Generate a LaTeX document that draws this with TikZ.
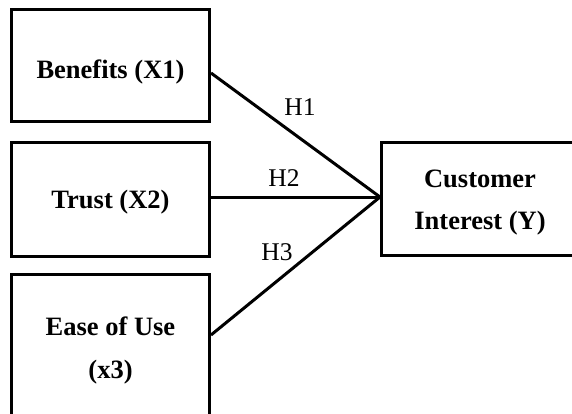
\documentclass[tikz,border=0pt]{standalone}
\usepackage{fontspec}
\setmainfont{Liberation Serif}
\usetikzlibrary{calc}
\begin{document}
\begin{tikzpicture}[x=1pt,y=-1pt,
  varbox/.style={draw=black, line width=3pt, line join=miter, rectangle, align=center,
    inner sep=0pt, font=\fontsize{26.5}{42.5}\selectfont\bfseries},
  link/.style={draw=black, line width=3pt},
  hlabel/.style={font=\fontsize{25.5}{30}\selectfont, inner sep=0pt}]
\useasboundingbox (0,0) rectangle (572,414);
\clip (0,0) rectangle (572,414);
\node[varbox, minimum width=198pt, minimum height=112pt, text height=31pt] (b1) at (110.5,65.5) {Benefits (X1)};
\node[varbox, minimum width=198pt, minimum height=113pt, text height=23pt] (b2) at (110.5,199.5) {Trust (X2)};
\node[varbox, minimum width=198pt, minimum height=147pt, text depth=-4pt] (b3) at (110.5,347.5) {Ease of Use\\(x3)};
\node[varbox, minimum width=197pt, minimum height=113pt, text height=67pt] (b4) at (480,199) {Customer\\Interest (Y)};
\coordinate (join) at ($(b4.west)+(0,-2)$);
\draw[link] ($(b1.east)+(0,7.5)$) -- (join);
\draw[link] (b2.east |- join) -- (join);
\draw[link] ($(b3.east)+(0,-12.5)$) -- (join);
\node[hlabel] (h1) at (300,107) {H1};
\node[hlabel] (h2) at (284,178) {H2};
\node[hlabel] (h3) at (277,252) {H3};
\end{tikzpicture}
\end{document}
